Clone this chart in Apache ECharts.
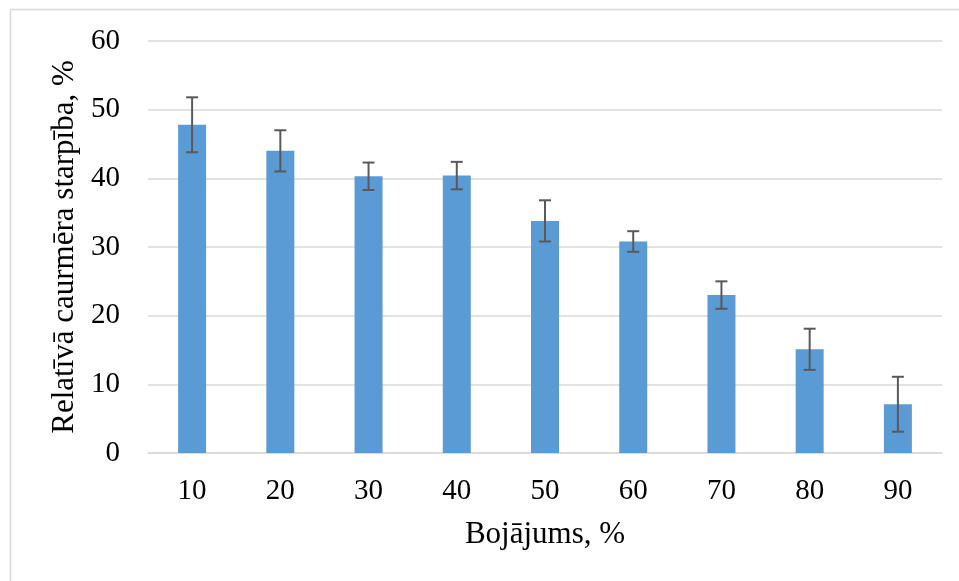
<!DOCTYPE html>
<html>
<head>
<meta charset="utf-8">
<script src="https://cdn.jsdelivr.net/npm/echarts@6/dist/echarts.min.js"></script>
<style>
html,body{margin:0;padding:0;background:#fff;}
#chart{width:959px;height:581px;}
</style>
</head>
<body>
<div id="chart"></div>
<script>
var categories = ['10', '20', '30', '40', '50', '60', '70', '80', '90'];
var values = [47.8, 44.0, 40.3, 40.4, 33.8, 30.8, 23.0, 15.1, 7.1];
var errors = [4, 3, 2, 2, 3, 1.5, 2, 3, 4];
var yTicks = [0, 10, 20, 30, 40, 50, 60];
var xTitle = 'Bojājums, %';
var yTitle = 'Relatīvā caurmēra starpība, %';

var errData = categories.map(function (c, i) {
  return [i, values[i] - errors[i], values[i] + errors[i]];
});

var chart = echarts.init(document.getElementById('chart'));
var font = '"Liberation Serif", "Times New Roman", serif';
chart.setOption({
  animation: false,
  backgroundColor: '#fff',
  graphic: [{
    type: 'rect',
    shape: { x: 10.5, y: 9.5, width: 1000, height: 700 },
    style: { fill: 'none', stroke: '#d9d9d9', lineWidth: 1.5 },
    silent: true,
    z: -1
  }],
  grid: { left: 148, right: 17, top: 41, bottom: 128 },
  xAxis: {
    type: 'category',
    data: categories,
    name: xTitle,
    nameLocation: 'middle',
    nameGap: 66,
    nameTextStyle: { fontFamily: font, fontSize: 31, color: '#000' },
    axisLine: { lineStyle: { color: '#d9d9d9', width: 1.5 } },
    axisTick: { show: false },
    axisLabel: { fontFamily: font, fontSize: 29, color: '#000', margin: 24 }
  },
  yAxis: {
    type: 'value',
    min: yTicks[0],
    max: yTicks[yTicks.length - 1],
    interval: 10,
    name: yTitle,
    nameLocation: 'middle',
    nameGap: 66,
    nameTextStyle: { fontFamily: font, fontSize: 31, color: '#000' },
    axisLine: { show: false },
    axisTick: { show: false },
    axisLabel: { fontFamily: font, fontSize: 29, color: '#000', margin: 28 },
    splitLine: { lineStyle: { color: '#d9d9d9', width: 1.5 } }
  },
  series: [{
    type: 'bar',
    data: values,
    barWidth: 28,
    itemStyle: { color: '#5b9bd5' }
  }, {
    type: 'custom',
    data: errData,
    z: 10,
    renderItem: function (params, api) {
      var x = api.value(0);
      var lo = api.coord([x, api.value(1)]);
      var hi = api.coord([x, api.value(2)]);
      var hw = 6;
      var style = { stroke: '#595959', lineWidth: 2 };
      return {
        type: 'group',
        children: [
          { type: 'line', shape: { x1: hi[0], y1: hi[1], x2: lo[0], y2: lo[1] }, style: style },
          { type: 'line', shape: { x1: hi[0] - hw, y1: hi[1], x2: hi[0] + hw, y2: hi[1] }, style: style },
          { type: 'line', shape: { x1: lo[0] - hw, y1: lo[1], x2: lo[0] + hw, y2: lo[1] }, style: style }
        ]
      };
    }
  }]
});
</script>
</body>
</html>
